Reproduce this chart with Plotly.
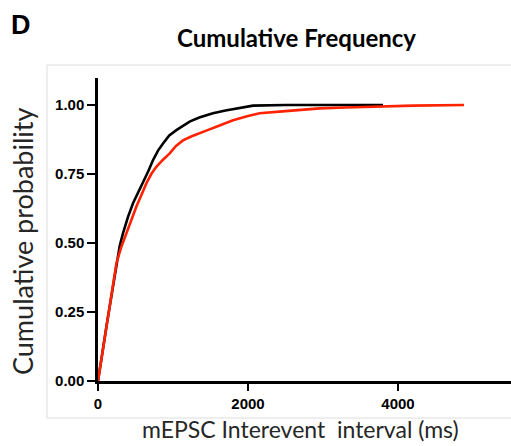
import plotly.graph_objects as go

# Data
black_x = [0, 60, 120, 180, 245, 290, 333, 400, 467, 530, 600, 670, 733, 800, 867, 950, 1050, 1222, 1350,
           1533, 1700, 1900, 2067, 2500, 3000, 3400, 3800]
black_y = [0, 0.11, 0.21, 0.31, 0.426, 0.49, 0.535, 0.595, 0.644, 0.68, 0.716, 0.76, 0.80, 0.835, 0.861,
           0.89, 0.91, 0.94, 0.955, 0.97, 0.98, 0.99, 0.998, 1.0, 1.0, 1.0, 1.0]
red_x = [0, 60, 120, 180, 245, 310, 378, 445, 512, 580, 645, 710, 778, 860, 956, 1040, 1133, 1250, 1356,
         1470, 1578, 1800, 2000, 2156, 2500, 2956, 3300, 3622, 4200, 4880]
red_y = [0, 0.105, 0.21, 0.31, 0.426, 0.485, 0.535, 0.585, 0.632, 0.675, 0.716, 0.75, 0.776, 0.80, 0.825,
         0.852, 0.872, 0.887, 0.897, 0.91, 0.921, 0.945, 0.96, 0.97, 0.978, 0.988, 0.991, 0.994, 0.998, 1.0]

x_ticks = [0, 2000, 4000]
y_ticks = [0, 0.25, 0.5, 0.75, 1.0]

W, H = 511, 446
L, R, T, B = 98, 0, 78, 65

fig = go.Figure()
fig.add_trace(go.Scatter(x=black_x, y=black_y, mode="lines",
                         line=dict(color="black", width=2.6), showlegend=False))
fig.add_trace(go.Scatter(x=red_x, y=red_y, mode="lines",
                         line=dict(color="#FF2200", width=2.6), showlegend=False))

def px2paper_x(px):
    return (px - L) / (W - L - R)

def px2paper_y(py):
    return (H - B - py) / (H - T - B)

tickfont = dict(family="Liberation Sans", size=15, color="black", weight="bold")
fig.update_xaxes(range=[0, 5507], tickvals=x_ticks, ticktext=[str(v) for v in x_ticks],
                 showgrid=False, zeroline=False, showline=True, linecolor="black",
                 linewidth=2.5, ticks="outside", ticklen=7, tickwidth=2, tickcolor="black",
                 tickfont=tickfont)
fig.update_yaxes(range=[0, 1.098], tickvals=y_ticks, tickformat=".2f",
                 showgrid=False, zeroline=False, showline=True, linecolor="black",
                 linewidth=2.5, ticks="outside", ticklen=8, tickwidth=2, tickcolor="black",
                 tickfont=tickfont)

annotations = [
    dict(text="<b>D</b>", x=px2paper_x(21), y=px2paper_y(25), xref="paper", yref="paper",
         showarrow=False, xanchor="center", yanchor="middle",
         font=dict(family="Liberation Sans", size=27, color="black")),
    dict(text="<b>Cumulative Frequency</b>", x=px2paper_x(296), y=px2paper_y(38), xref="paper", yref="paper",
         showarrow=False, xanchor="center", yanchor="middle",
         font=dict(family="Lato", size=24, color="black")),
    dict(text="Cumulative probability", x=px2paper_x(22), y=px2paper_y(242), xref="paper", yref="paper",
         showarrow=False, xanchor="center", yanchor="middle", textangle=-90,
         font=dict(family="Lato", size=27, color="#262626")),
    dict(text="mEPSC Interevent  interval (ms)", x=px2paper_x(300), y=px2paper_y(429), xref="paper", yref="paper",
         showarrow=False, xanchor="center", yanchor="middle",
         font=dict(family="Lato", size=23, color="#262626")),
]

shapes = [
    dict(type="rect", xref="paper", yref="paper",
         x0=px2paper_x(47), x1=px2paper_x(530), y0=px2paper_y(418), y1=px2paper_y(65),
         line=dict(color="#dddddd", width=1), layer="below"),
]

fig.update_layout(width=W, height=H, margin=dict(l=L, r=R, t=T, b=B),
                  paper_bgcolor="white", plot_bgcolor="white",
                  annotations=annotations, shapes=shapes)

fig.write_html("out.html")
